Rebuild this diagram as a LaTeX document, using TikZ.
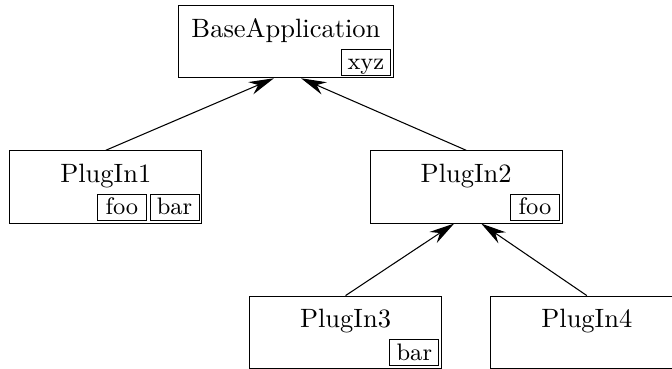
\documentclass[tikz,border=0pt]{standalone}
\usepackage{tikz}
\usetikzlibrary{arrows.meta,positioning}

\begin{document}
\begin{tikzpicture}[
  node distance=0.955cm and 1.11cm,
  cls/.style={draw, inner xsep=4.75pt, inner ysep=3.33pt, text height=8.7pt, text depth=11.9pt, minimum width=2.546cm},
  tag/.style={draw, font=\small, inner xsep=1pt, inner ysep=0.8pt, text height=1.6ex, text depth=0.3ex, minimum width=18.5pt},
  arr/.style={-{Stealth[length=9.5pt, width=5pt]}}]
\useasboundingbox (0,0) rectangle (8.913,-4.894);
\node[cls, anchor=north] (base) at (3.793,-0.066) {BaseApplication};
\node[cls, below left=of base.south] (p1) {PlugIn1};
\node[cls, below right=of base.south] (p2) {PlugIn2};
\node[cls, below left=0.955cm and 0.32cm of p2.south] (p3) {PlugIn3};
\node[cls, below right=0.955cm and 0.32cm of p2.south] (p4) {PlugIn4};
% tags in the boxes
\node[tag, above left=1pt and 1pt of base.south east] (bxyz) {xyz};
\node[tag, above left=1pt and 1pt of p1.south east] (p1bar) {bar};
\node[tag, left=1pt of p1bar] (p1foo) {foo};
\node[tag, above left=1pt and 1pt of p2.south east] (p2foo) {foo};
\node[tag, above left=1pt and 1pt of p3.south east] (p3bar) {bar};
% inheritance
\draw[arr] (p1.north) -- ([xshift=-0.16cm]base.south);
\draw[arr] (p2.north) -- ([xshift=0.2cm]base.south);
\draw[arr] (p3.north) -- ([xshift=-0.16cm]p2.south);
\draw[arr] (p4.north) -- ([xshift=0.2cm]p2.south);
\end{tikzpicture}
\end{document}
